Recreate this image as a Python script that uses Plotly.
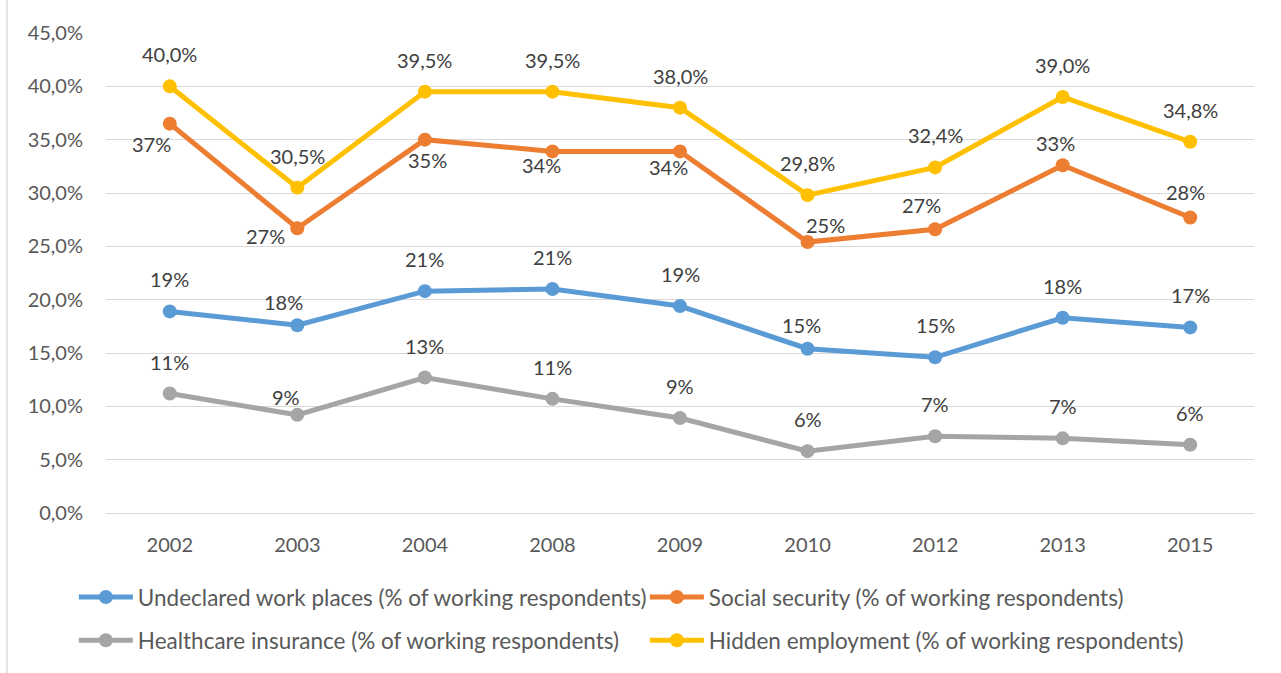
import plotly.graph_objects as go

# Survey years (categorical axis)
years = ["2002", "2003", "2004", "2008", "2009", "2010", "2012", "2013", "2015"]

# Shares in percent of working respondents
undeclared = [18.9, 17.6, 20.8, 21.0, 19.4, 15.4, 14.6, 18.3, 17.4]
social_security = [36.5, 26.7, 35.0, 33.9, 33.9, 25.4, 26.6, 32.6, 27.7]
healthcare = [11.2, 9.2, 12.7, 10.7, 8.9, 5.8, 7.2, 7.0, 6.4]
hidden = [40.0, 30.5, 39.5, 39.5, 38.0, 29.8, 32.4, 39.0, 34.8]

y_ticks = [0, 5, 10, 15, 20, 25, 30, 35, 40, 45]

names = [
    "Undeclared work places (% of working respondents)",
    "Social security (% of working respondents)",
    "Healthcare insurance (% of working respondents)",
    "Hidden employment (% of working respondents)",
]
colors = ["#5B9BD5", "#ED7D31", "#A5A5A5", "#FFC000"]
series = [undeclared, social_security, healthcare, hidden]
legend_ids = ["legend", "legend", "legend2", "legend2"]

FONT = "Lato, Calibri, sans-serif"

# Pixel offsets (dx, dy screen-down) of each value label from its point
ABOVE = (0, -32)
label_offsets = [
    [ABOVE, (-14, -23), ABOVE, ABOVE, ABOVE, (-6, -24), ABOVE, ABOVE, ABOVE],
    [(-18, 20), (-32, 8), (3, 20), (-11, 14), (-12, 16), (18, -17), (-14, -24), (-7, -22), (-5, -26)],
    [ABOVE, (-11, -18), ABOVE, ABOVE, ABOVE, ABOVE, ABOVE, ABOVE, ABOVE],
    [ABOVE] * 9,
]


def pct_int(v):
    return f"{int(v + 0.5)}%"


def pct_one(v):
    return f"{v:.1f}".replace(".", ",") + "%"


formatters = [pct_int, pct_int, pct_int, pct_one]

fig = go.Figure()
for name, vals, col, leg in zip(names, series, colors, legend_ids):
    fig.add_trace(go.Scatter(
        x=years, y=vals, name=name, mode="lines+markers",
        line=dict(color=col, width=5),
        marker=dict(color=col, size=14),
        legend=leg,
        hoverinfo="skip",
    ))

# Value labels; category positions are given by index so that the
# numeric-looking year names are not read as serial numbers
annotations = []
for vals, fmt, offs in zip(series, formatters, label_offsets):
    for i, (v, (dx, dy)) in enumerate(zip(vals, offs)):
        annotations.append(dict(
            x=i, y=v, xref="x", yref="y", text=fmt(v), showarrow=False,
            xshift=dx, yshift=-dy,
            font=dict(family=FONT, size=20, color="#404040"),
        ))

legend_common = dict(
    orientation="h", xanchor="left", yanchor="top",
    font=dict(family=FONT, size=22.5, color="#595959"),
    itemwidth=54,
    entrywidth=502, entrywidthmode="pixels",
    bgcolor="rgba(0,0,0,0)", itemclick=False, itemdoubleclick=False,
)

fig.update_layout(
    width=1281, height=673,
    margin=dict(l=106, r=27, t=33, b=160, autoexpand=False),
    paper_bgcolor="white", plot_bgcolor="white",
    font=dict(family=FONT, size=20, color="#595959"),
    showlegend=True,
    legend=dict(x=-0.028, y=-0.131, **legend_common),
    legend2=dict(x=-0.028, y=-0.221, **legend_common),
    annotations=annotations,
    xaxis=dict(
        type="category", range=[-0.5, 8.5],
        showgrid=False, showline=False, zeroline=False, ticks="",
        tickfont=dict(family=FONT, size=20, color="#595959"),
        ticklabelstandoff=18, automargin=False,
        fixedrange=True,
    ),
    yaxis=dict(
        range=[0, 45], tickvals=y_ticks,
        ticktext=[f"{v:.1f}".replace(".", ",") + "%" for v in y_ticks],
        showgrid=True, gridcolor="#D9D9D9", gridwidth=1.3,
        zeroline=True, zerolinecolor="#D9D9D9", zerolinewidth=1.3,
        showline=False, ticks="",
        tickfont=dict(family=FONT, size=20, color="#595959"),
        ticklabelstandoff=22, automargin=False,
        fixedrange=True,
    ),
    shapes=[dict(
        type="line", xref="paper", yref="paper",
        x0=(7 - 106) / 1148, x1=(7 - 106) / 1148,
        y0=(512.7 - 673) / 479.7, y1=(512.7 + 0) / 479.7,
        line=dict(color="#D9D9D9", width=1.3),
    )],
)

fig.write_html("out.html", config={"displayModeBar": False})
